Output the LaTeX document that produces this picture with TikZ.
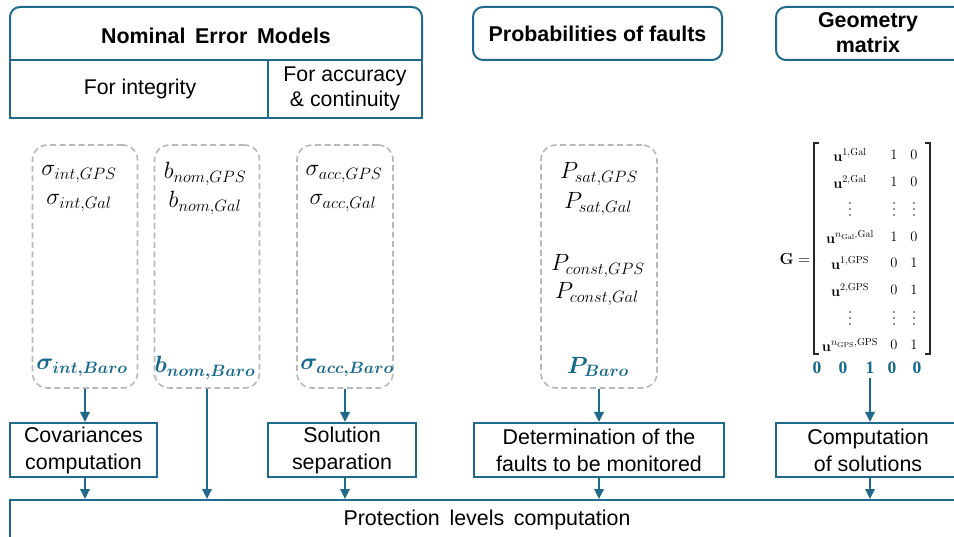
\RequirePackage{fix-cm}
\documentclass[tikz,border=0pt]{standalone}
\usepackage{amsmath,bm}
\usepackage[no-math]{fontspec}
\setmainfont{Liberation Sans}
\newfontfamily\selfont{Liberation Serif}
\usetikzlibrary{arrows.meta}
\definecolor{teal1}{HTML}{1F6A8C}
\definecolor{baro}{HTML}{16688C}
\definecolor{dashgray}{HTML}{B8B8B8}

\begin{document}
\begin{tikzpicture}[x=1pt,y=-1pt,
  frame/.style={draw=teal1, line width=2pt},
  hdr/.style={font=\fontsize{21.4}{25}\selectfont\bfseries, align=center, inner sep=0pt},
  lbl/.style={font=\fontsize{21.3}{25}\selectfont, align=center, inner sep=0pt},
  topbox/.style={frame, rounded corners=10pt, inner sep=0pt},
  procbox/.style={frame, inner sep=0pt, font=\fontsize{21.4}{27}\selectfont, align=center},
  dbox/.style={draw=dashgray, line width=1.6pt, dash pattern=on 6pt off 3.5pt,
               rounded corners=15pt, inner sep=0pt},
  mtxt/.style={font=\fontsize{23.5}{26}\selectfont, inner sep=0pt},
  btxt/.style={mtxt, text=baro},
  ent/.style={font=\fontsize{14.5}{16}\selectfont, inner sep=0pt},
  sel/.style={font=\selfont\fontsize{17.5}{18}\selectfont\bfseries, text=baro, inner sep=0pt},
  arr/.style={draw=teal1, line width=1.8pt, -{Triangle[length=10pt,width=9.5pt]}},
  dot/.style={fill=black!85},
]
\useasboundingbox (0,0) rectangle (954,537);

% ---- Nominal error models header table ----
\begin{scope}
  \clip (0,0) rectangle (954,60);
  \draw[frame, rounded corners=10pt] (10,7) rectangle (422,118);
\end{scope}
\draw[frame] (10,60) rectangle (422,118);
\draw[frame] (268,60) -- (268,118);
\node[hdr] (nem) at (216,36) {Nominal\hspace{0.45em}Error\hspace{0.45em}Models};
\node[lbl] (forint) at (140,89) {For integrity};
\node[lbl] (foracc) at (345,89) {For accuracy\\\& continuity};

% ---- other headers ----
\node[topbox, hdr, minimum width=249pt, minimum height=53pt] (pof) at (597.5,33.5) {Probabilities of faults};
\node[topbox, minimum width=189pt, minimum height=53pt] (geo) at (870.5,33.5) {};
\node[hdr] (geot) at (868,33) {Geometry\\matrix};

% ---- dashed parameter groups ----
\node[dbox, minimum width=105pt, minimum height=243pt] (d1) at (85,266.5) {};
\node[dbox, minimum width=105pt, minimum height=243pt] (d2) at (207,266.5) {};
\node[dbox, minimum width=96pt, minimum height=243pt] (d3) at (345,266.5) {};
\node[dbox, minimum width=116pt, minimum height=243pt] (d4) at (599,266.5) {};

\node[mtxt] (s1a) at (79,174) {$\sigma_{int,GPS}$};
\node[mtxt] (s1b) at (79,203) {$\sigma_{int,Gal}$};
\node[btxt] (s1c) at (82,368) {$\bm{\sigma}_{\bm{int,Baro}}$};

\node[mtxt] (s2a) at (205,174) {$b_{nom,GPS}$};
\node[mtxt] (s2b) at (205,203) {$b_{nom,Gal}$};
\node[btxt] (s2c) at (205,368) {$\bm{b}_{\bm{nom,Baro}}$};

\node[mtxt] (s3a) at (344,174) {$\sigma_{acc,GPS}$};
\node[mtxt] (s3b) at (343,203) {$\sigma_{acc,Gal}$};
\node[btxt] (s3c) at (347,368) {$\bm{\sigma}_{\bm{acc,Baro}}$};

\node[mtxt] (s4a) at (599,174) {$P_{sat,GPS}$};
\node[mtxt] (s4b) at (598,204) {$P_{sat,Gal}$};
\node[mtxt] (s4c) at (598,266) {$P_{const,GPS}$};
\node[mtxt] (s4d) at (597,294) {$P_{const,Gal}$};
\node[btxt] (s4e) at (598,367) {$\bm{P}_{\bm{Baro}}$};

% ---- geometry matrix ----
\node[ent, font=\fontsize{16}{18}\selectfont] (geq) at (795,259) {$\mathbf{G}=$};
\draw[line width=1.6pt, black!85] (819,143) -- (814,143) -- (814,354) -- (819,354);
\draw[line width=1.6pt, black!85] (925,143) -- (930,143) -- (930,354) -- (925,354);
\node[ent] (u1) at (850,155) {$\mathbf{u}^{1,\mathrm{Gal}}$};
\node[ent] (u2) at (850,182) {$\mathbf{u}^{2,\mathrm{Gal}}$};
\node[ent] (u4) at (850,237) {$\mathbf{u}^{n_{\mathrm{Gal}},\mathrm{Gal}}$};
\node[ent] (u5) at (850,263) {$\mathbf{u}^{1,\mathrm{GPS}}$};
\node[ent] (u6) at (850,290) {$\mathbf{u}^{2,\mathrm{GPS}}$};
\node[ent] (u8) at (850,345) {$\mathbf{u}^{n_{\mathrm{GPS}},\mathrm{GPS}}$};
\foreach \y/\a/\b [count=\i] in {155/1/0,182/1/0,237/1/0,263/0/1,290/0/1,345/0/1}{
  \node[ent] (a\i) at (894,\y) {$\a$};
  \node[ent] (b\i) at (914,\y) {$\b$};
}
% vertical ellipses in the three columns
\foreach \x in {850,894,914}
  \foreach \y in {209,318}
    \foreach \d in {-6,0,6}
      \fill[dot] (\x,\y+\d) circle (0.85pt);
\node[sel] (z1) at (817,368) {0};
\node[sel] (z2) at (843,368) {0};
\node[sel] (one) at (870,368) {1};
\node[sel] (z4) at (892,368) {0};
\node[sel] (z5) at (917,368) {0};

% ---- processing blocks ----
\node[procbox, minimum width=147pt, minimum height=54pt] (cov) at (83.5,450) {Covariances\\computation};
\node[procbox, minimum width=148pt, minimum height=54pt] (sep) at (342,450) {Solution\\separation};
\node[procbox, minimum width=250pt, minimum height=54pt] (det) at (599,450) {Determination of the\\faults to be monitored};
\node[procbox, minimum width=189pt, minimum height=54pt] (comp) at (870.5,450) {};
\node[font=\fontsize{21.4}{27}\selectfont, align=center] (compt) at (868,450) {Computation\\of solutions};
\node[procbox, minimum width=955pt, minimum height=48pt] (prot) at (487.5,524) {};
\node[font=\fontsize{21.4}{24}\selectfont] (prott) at (487,520) {Protection\hspace{0.45em}levels\hspace{0.45em}computation};

% ---- connectors ----
\draw[arr] (d1.south) -- (d1.south |- cov.north);
\draw[arr] (cov.south -| d1.south) -- (d1.south |- prot.north);
\draw[arr] (d2.south) -- (d2.south |- prot.north);
\draw[arr] (d3.south) -- (d3.south |- sep.north);
\draw[arr] (sep.south -| d3.south) -- (d3.south |- prot.north);
\draw[arr] (d4.south) -- (d4.south |- det.north);
\draw[arr] (det.south -| d4.south) -- (d4.south |- prot.north);
\draw[arr] (one.south) ++(0,4) -- (one.south |- comp.north);
\draw[arr] (comp.south -| one.south) -- (one.south |- prot.north);
\end{tikzpicture}
\end{document}
